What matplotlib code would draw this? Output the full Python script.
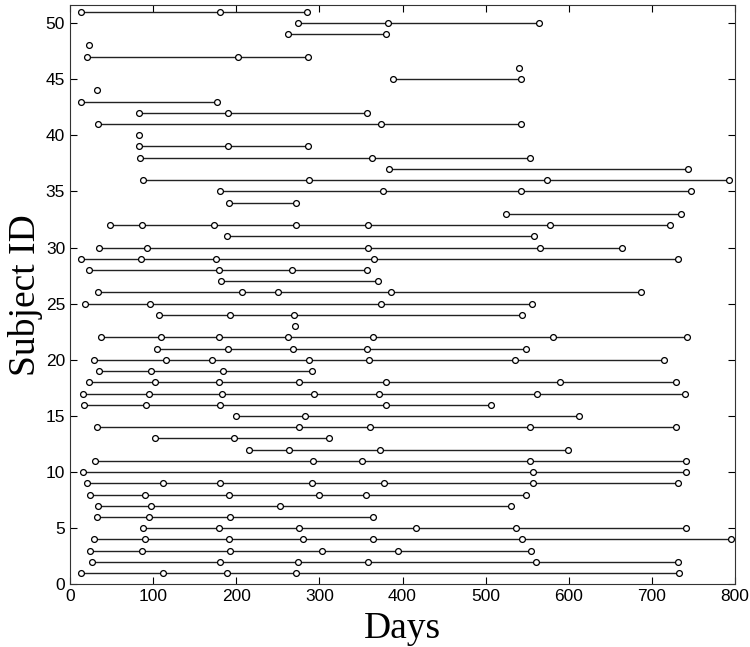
import matplotlib
matplotlib.use("Agg")
import matplotlib.pyplot as plt

subject_ids = list(range(1, 52))

visit_days = {
    1: [13, 112, 189, 272, 733],
    2: [27, 181, 274, 358, 560, 731],
    3: [24, 87, 192, 303, 394, 554],
    4: [29, 90, 191, 280, 365, 544, 795],
    5: [88, 179, 276, 416, 536, 741],
    6: [32, 95, 193, 365],
    7: [34, 97, 253, 530],
    8: [24, 90, 191, 300, 356, 548],
    9: [21, 112, 181, 291, 378, 557, 731],
    10: [16, 557, 741],
    11: [30, 292, 351, 553, 741],
    12: [215, 263, 373, 599],
    13: [102, 197, 311],
    14: [33, 275, 361, 553, 729],
    15: [200, 283, 612],
    16: [17, 91, 181, 380, 506],
    17: [16, 95, 183, 294, 372, 562, 740],
    18: [23, 102, 179, 276, 380, 590, 729],
    19: [35, 98, 184, 291],
    20: [29, 116, 171, 287, 360, 535, 714],
    21: [105, 190, 268, 357, 549],
    22: [37, 110, 179, 262, 365, 581, 742],
    23: [271],
    24: [107, 193, 269, 544],
    25: [18, 96, 374, 556],
    26: [34, 207, 250, 386, 687],
    27: [182, 371],
    28: [23, 179, 267, 357],
    29: [13, 86, 176, 366, 732],
    30: [35, 93, 359, 566, 664],
    31: [189, 558],
    32: [48, 87, 173, 272, 359, 578, 722],
    33: [525, 735],
    34: [191, 272],
    35: [181, 377, 543, 747],
    36: [88, 288, 574, 793],
    37: [384, 744],
    38: [84, 363, 553],
    39: [83, 190, 286],
    40: [83],
    41: [34, 374, 542],
    42: [83, 190, 357],
    43: [13, 177],
    44: [32],
    45: [388, 542],
    46: [540],
    47: [21, 202, 286],
    48: [23],
    49: [262, 380],
    50: [274, 382, 564],
    51: [13, 181, 285],
}

x_ticks = list(range(0, 801, 100))
y_ticks = list(range(0, 51, 5))

fig = plt.figure(figsize=(7.5, 6.47), dpi=100)
ax = fig.add_axes([70 / 750, 1 - 584.4 / 647, 665 / 750, 579.4 / 647])

for sid in subject_ids:
    days = visit_days[sid]
    ax.plot(days, [sid] * len(days), color="#222222", linewidth=1.0,
            marker="o", markersize=4.2, markerfacecolor="white",
            markeredgecolor="black", markeredgewidth=0.9)

ax.set_xlim(0, 800)
ax.set_ylim(0, 51.6)
ax.set_xticks(x_ticks)
ax.set_yticks(y_ticks)
ax.tick_params(direction="in", top=True, right=True, length=5, width=0.8,
               labelsize=12.5, colors="black")
for lab in ax.get_xticklabels() + ax.get_yticklabels():
    lab.set_family("Liberation Sans")
for sp in ax.spines.values():
    sp.set_linewidth(0.8)
    sp.set_color("#333333")

ax.set_xlabel("Days", fontfamily="Liberation Serif", fontsize=27, labelpad=5)
ax.set_ylabel("Subject ID", fontfamily="Liberation Serif", fontsize=27, labelpad=2)

fig.savefig("out.png", dpi=100)
